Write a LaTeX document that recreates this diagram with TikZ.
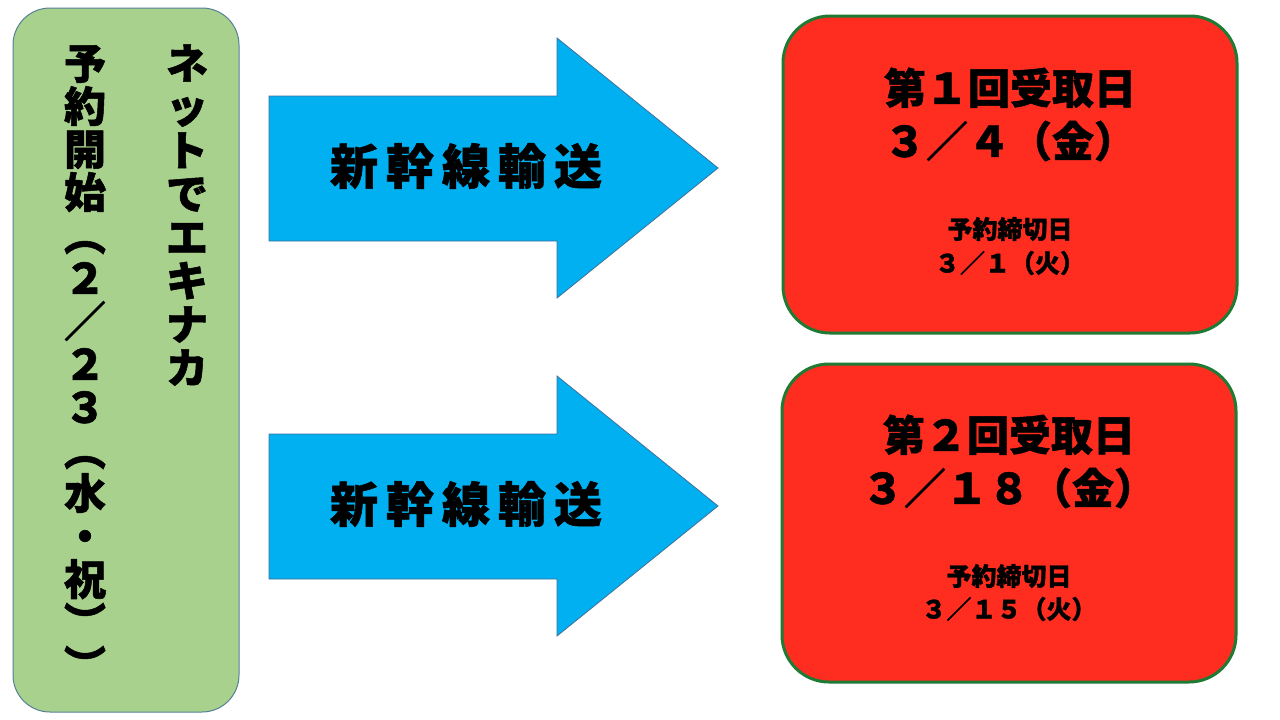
\documentclass[tikz,border=0pt]{standalone}
\usepackage{fontspec}
\usepackage{graphicx}
\newfontfamily\jpfont{Noto Sans CJK JP}[BoldFeatures={FakeBold=1.2}]
\definecolor{lgreen}{HTML}{A9D18E}
\definecolor{gborder}{HTML}{557F96}
\definecolor{arrowblue}{HTML}{00B0F0}
\definecolor{arrowborder}{HTML}{41719C}
\definecolor{boxred}{HTML}{FF2D20}
\definecolor{boxgreen}{HTML}{1F7A34}
\newcommand\vparL{\rotatebox[origin=c]{-90}{（}}
\newcommand\vparR{\rotatebox[origin=c]{-90}{）}}
\tikzset{
  jp/.style={inner sep=0pt, text height={0.88*#1 pt}, text depth={0.12*#1 pt}, font=\jpfont\bfseries\fontsize{#1}{#1}\selectfont},
  startbox/.style={fill=lgreen, draw=gborder, line width=1pt, rounded corners=37pt},
  bigarrow/.style={fill=arrowblue, draw=arrowborder, line width=0.8pt},
  datebox/.style={fill=boxred, draw=boxgreen, line width=3pt, rounded corners=47pt},
}
\begin{document}
\begin{tikzpicture}[x=1pt,y=-1pt]
\useasboundingbox (0,0) rectangle (1280,720);
\fill[white] (0,0) rectangle (1280,720);

% left green box
\draw[startbox] (13,8) rectangle (239,712);
\foreach \c [count=\i] in {ネ,ッ,ト,で,エ,キ,ナ,カ}
  \node[jp=42] (r\i) at (187,{63+(\i-1)*43.5}) {\c};
\foreach \c [count=\i] in {予,約,開,始,\vparL,２,／,２,３,\vparL,水,・,祝,\vparR,\vparR}
  \node[jp=42] (l\i) at (85,{63+(\i-1)*43}) {\c};

% arrows
\foreach \dy/\n in {0/a1,338/a2}{
  \draw[bigarrow] (269,96+\dy) -- (557,96+\dy) -- (557,38+\dy) -- (718,168+\dy)
     -- (557,298+\dy) -- (557,241+\dy) -- (269,241+\dy) -- cycle;
  \node[jp=48] (\n) at (466,166+\dy) {新\hspace{8pt}幹\hspace{8pt}線\hspace{8pt}輸\hspace{8pt}送};
}

% red boxes
\draw[datebox] (783,16) rectangle (1237,333);
\node[jp=42] (b1l1) at (1010,88) {第１回受取日};
\node[jp=42] (b1l2) at (1010,141) {３／４（金）};
\node[jp=25] (b1l3) at (1010,229) {予約締切日};
\node[jp=25] (b1l4) at (1010,263) {３／１（火）};

\draw[datebox] (782,364) rectangle (1236,682);
\node[jp=42] (b2l1) at (1009,435) {第２回受取日};
\node[jp=42] (b2l2) at (1009,488) {３／１８（金）};
\node[jp=25] (b2l3) at (1009,576) {予約締切日};
\node[jp=25] (b2l4) at (1009,609) {３／１５（火）};
\end{tikzpicture}
\end{document}
